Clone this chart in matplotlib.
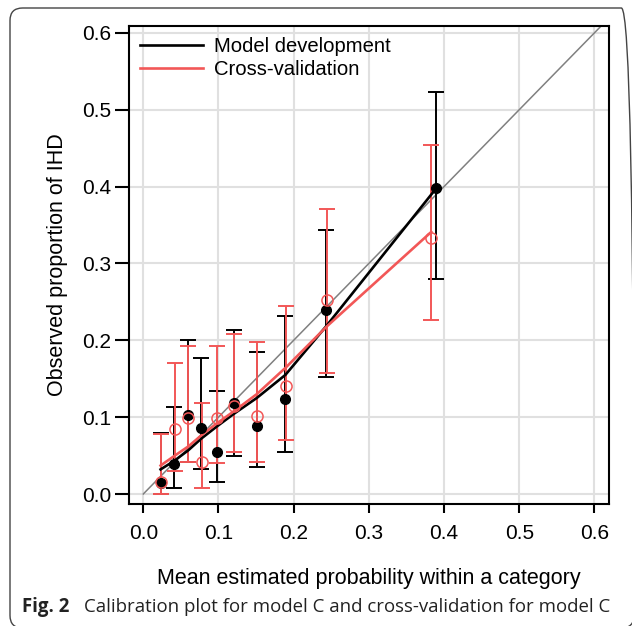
import numpy as np
import matplotlib
matplotlib.use("Agg")
import matplotlib.pyplot as plt
from matplotlib.patches import FancyBboxPatch

plt.rcParams['font.family'] = ['Liberation Sans', 'DejaVu Sans']

# model development (black, filled)
dev_x = [0.023, 0.041, 0.060, 0.077, 0.098, 0.120, 0.151, 0.189, 0.243, 0.389]
dev_y = [0.014, 0.039, 0.103, 0.086, 0.055, 0.118, 0.089, 0.124, 0.239, 0.398]
dev_lo = [0.000, 0.008, 0.042, 0.032, 0.015, 0.050, 0.035, 0.055, 0.152, 0.280]
dev_hi = [0.080, 0.113, 0.200, 0.177, 0.134, 0.213, 0.185, 0.232, 0.344, 0.523]
dev_fit = [0.032, 0.043, 0.057, 0.072, 0.088, 0.104, 0.125, 0.155, 0.218, 0.397]

# cross-validation (red, open)
cv_x = [0.023, 0.042, 0.060, 0.078, 0.098, 0.121, 0.151, 0.190, 0.244, 0.383]
cv_y = [0.016, 0.084, 0.099, 0.042, 0.099, 0.114, 0.101, 0.140, 0.253, 0.333]
cv_lo = [0.000, 0.030, 0.042, 0.008, 0.040, 0.055, 0.041, 0.070, 0.157, 0.227]
cv_hi = [0.078, 0.171, 0.193, 0.119, 0.193, 0.208, 0.198, 0.245, 0.371, 0.454]
cv_fit = [0.037, 0.050, 0.062, 0.077, 0.092, 0.108, 0.130, 0.165, 0.218, 0.341]

ticks = [0.0, 0.1, 0.2, 0.3, 0.4, 0.5, 0.6]
RED = "#f25757"

fig = plt.figure(figsize=(6.32, 6.26), dpi=100)
ax = fig.add_axes([0.2046, 0.1949, 0.7585, 0.7636])

ax.plot([0, 0.7], [0, 0.7], color="#808080", lw=1.1, zorder=2)

dev_err = [np.subtract(dev_y, dev_lo), np.subtract(dev_hi, dev_y)]
cv_err = [np.subtract(cv_y, cv_lo), np.subtract(cv_hi, cv_y)]
ax.errorbar(dev_x, dev_y, yerr=dev_err, fmt="none", ecolor="black",
            elinewidth=1.4, capsize=6, capthick=1.4, zorder=3)
ax.errorbar(cv_x, cv_y, yerr=cv_err, fmt="none", ecolor=RED,
            elinewidth=1.4, capsize=6, capthick=1.4, zorder=4)

ax.plot(dev_x, dev_fit, color="black", lw=1.9, label="Model development", zorder=5)
ax.plot(cv_x, cv_fit, color=RED, lw=1.9, label="Cross-validation", zorder=5)

ax.plot(dev_x, dev_y, "o", color="black", ms=7, zorder=6)
ax.plot(cv_x, cv_y, "o", mfc="none", mec=RED, mew=1.1, ms=8, zorder=7)

ax.set_xlim(-0.0186, 0.619)
ax.set_ylim(-0.013, 0.609)
ax.set_xticks(ticks)
ax.set_yticks(ticks)
ax.set_xticklabels([f"{t:.1f}" for t in ticks])
ax.set_yticklabels([f"{t:.1f}" for t in ticks])
ax.grid(color="#e0e0e0", lw=1.5, zorder=0)
ax.set_axisbelow(True)
for s in ax.spines.values():
    s.set_linewidth(1.5)
ax.tick_params(axis="both", labelsize=15, width=1.5, direction="out")
ax.tick_params(axis="y", length=10, pad=3)
ax.tick_params(axis="x", length=6.5, pad=8)

ax.set_xlabel("Mean estimated probability within a category", fontsize=15.5, labelpad=18)
ax.set_ylabel("Observed proportion of IHD", fontsize=15.5, labelpad=10)

ax.legend(loc="upper left", frameon=False, fontsize=14.6, handlelength=3.1,
          handletextpad=0.55, borderaxespad=0.15, labelspacing=0.2,
          bbox_to_anchor=(0.0, 1.0))

# caption and frame (box runs off the right and bottom edges)
box = FancyBboxPatch((10 / 632, -2 / 626), 624 / 632, 620 / 626,
                     transform=fig.transFigure,
                     boxstyle="round,pad=0,rounding_size=0.02",
                     fc="none", ec="#444444", lw=1.0)
fig.patches.append(box)
fig.text(22 / 632, 1 - 612 / 626, "Fig. 2", fontsize=13.4, fontweight="bold",
         family=["Open Sans", "DejaVu Sans"], color="#222222")
fig.text(84 / 632, 1 - 612 / 626,
         "Calibration plot for model C and cross-validation for model C",
         fontsize=13.4, family=["Open Sans", "DejaVu Sans"], color="#222222")

fig.savefig("out.png", dpi=100)
